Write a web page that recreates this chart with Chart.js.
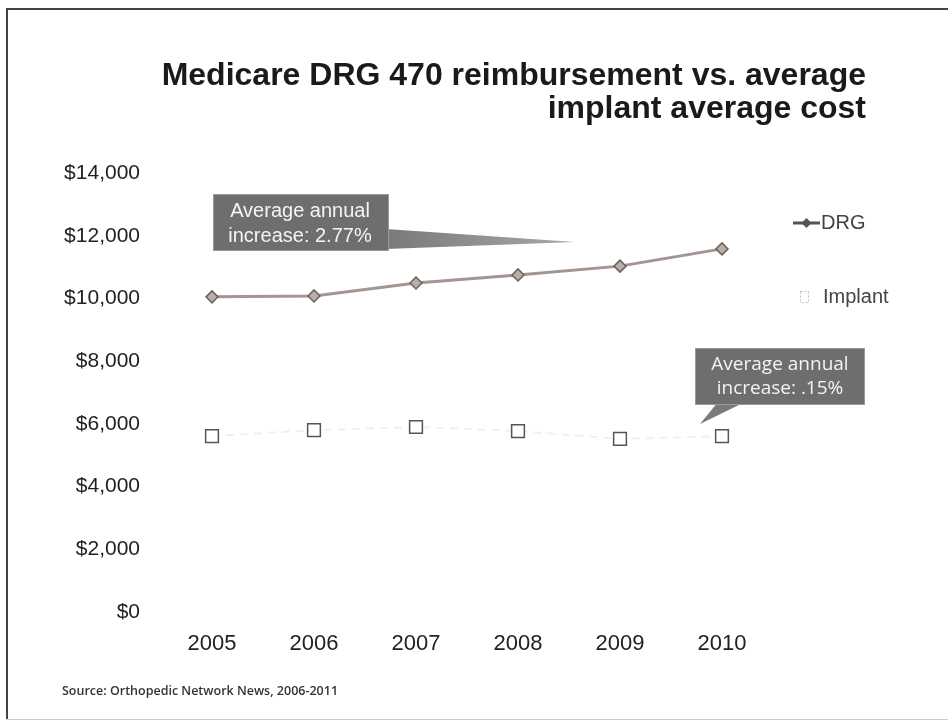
<!DOCTYPE html>
<html>
<head>
<meta charset="utf-8">
<script src="https://cdn.jsdelivr.net/npm/chart.js@4/dist/chart.umd.min.js"></script>
<style>
  html, body { margin: 0; padding: 0; background: #fff; }
  #wrap { width: 948px; height: 727px; position: relative; }
</style>
</head>
<body>
<div id="wrap"><canvas id="drgChart" width="948" height="727"></canvas></div>
<script>
// chart data
const years = ['2005', '2006', '2007', '2008', '2009', '2010'];
const drgValues = [10050, 10080, 10490, 10750, 11030, 11580];
const implantValues = [5610, 5800, 5900, 5770, 5520, 5610];
const yTicks = [0, 2000, 4000, 6000, 8000, 10000, 12000, 14000];
const titleLines = ['Medicare DRG 470 reimbursement vs. average', 'implant average cost'];
const drgNote = ['Average annual', 'increase: 2.77%'];
const implantNote = ['Average annual', 'increase: .15%'];
const sourceText = 'Source: Orthopedic Network News, 2006-2011';

// draws the frame, title, callouts, legend and source line
const decorations = {
  id: 'decorations',
  beforeDraw(chart) {
    const c = chart.ctx;
    c.save();
    c.fillStyle = '#fff';
    c.fillRect(0, 0, chart.width, chart.height);
    c.strokeStyle = '#444';
    c.lineWidth = 2;
    c.beginPath();
    c.moveTo(7, 719);
    c.lineTo(7, 9);
    c.lineTo(948, 9);
    c.stroke();
    c.strokeStyle = '#ccc';
    c.lineWidth = 1;
    c.beginPath();
    c.moveTo(7, 719.5);
    c.lineTo(948, 719.5);
    c.stroke();
    c.restore();
  },
  afterDraw(chart) {
    const c = chart.ctx;
    c.save();

    // title
    c.fillStyle = '#1a1a1a';
    c.font = 'bold 32px "Liberation Sans", Arial, sans-serif';
    c.textAlign = 'right';
    c.textBaseline = 'middle';
    c.fillText(titleLines[0], 866, 76);
    c.fillText(titleLines[1], 866, 109);

    // callout 1 (DRG)
    const grad = c.createLinearGradient(386, 0, 575, 0);
    grad.addColorStop(0, '#7a7a7a');
    grad.addColorStop(1, '#a8a8a8');
    c.fillStyle = grad;
    c.beginPath();
    c.moveTo(386, 229);
    c.lineTo(575, 242);
    c.lineTo(386, 249);
    c.closePath();
    c.fill();
    c.fillStyle = '#6e6e6e';
    c.fillRect(213, 194, 176, 57);
    c.strokeStyle = '#9a9a9a';
    c.lineWidth = 1;
    c.strokeRect(213.5, 194.5, 175, 56);
    c.fillStyle = '#f4f4f4';
    c.font = '20px "Liberation Sans", Arial, sans-serif';
    c.textAlign = 'center';
    c.fillText(drgNote[0], 300, 211);
    c.fillText(drgNote[1], 300, 236);

    // callout 2 (implant)
    c.fillStyle = '#7a7a7a';
    c.beginPath();
    c.moveTo(718, 402);
    c.lineTo(700, 424);
    c.lineTo(745, 402);
    c.closePath();
    c.fill();
    c.fillStyle = '#6e6e6e';
    c.fillRect(695, 348, 170, 57);
    c.strokeStyle = '#9a9a9a';
    c.strokeRect(695.5, 348.5, 169, 56);
    c.fillStyle = '#f4f4f4';
    c.font = '19px "Open Sans", sans-serif';
    c.fillText(implantNote[0], 780, 365);
    c.fillText(implantNote[1], 780, 389);

    // legend
    c.strokeStyle = '#555';
    c.lineWidth = 3;
    c.beginPath();
    c.moveTo(793, 223);
    c.lineTo(820, 223);
    c.stroke();
    c.fillStyle = '#555';
    c.beginPath();
    c.moveTo(806.5, 218);
    c.lineTo(811.5, 223);
    c.lineTo(806.5, 228);
    c.lineTo(801.5, 223);
    c.closePath();
    c.fill();
    c.strokeStyle = '#bbb';
    c.lineWidth = 1;
    c.setLineDash([2, 2]);
    c.strokeRect(800.5, 291.5, 8, 11);
    c.setLineDash([]);
    c.fillStyle = '#444';
    c.font = '20px "Liberation Sans", Arial, sans-serif';
    c.textAlign = 'left';
    c.fillText('DRG', 821, 223);
    c.fillText('Implant', 823, 297);

    // source
    c.fillStyle = '#333';
    c.font = '600 12.5px "Open Sans", sans-serif';
    c.fillText(sourceText, 62, 691);
    c.restore();
  }
};

const ctx = document.getElementById('drgChart').getContext('2d');
const drgChart = new Chart(ctx, {
  type: 'line',
  data: {
    labels: years,
    datasets: [
      {
        label: 'DRG',
        data: drgValues,
        borderColor: '#a3958f',
        borderWidth: 3,
        pointStyle: 'rectRot',
        pointRadius: 6,
        pointBackgroundColor: '#b8aeaa',
        pointBorderColor: '#6c625e',
        pointBorderWidth: 1.5,
        tension: 0
      },
      {
        label: 'Implant',
        data: implantValues,
        borderColor: '#f0f0f0',
        borderWidth: 2,
        borderDash: [8, 6],
        pointStyle: 'rect',
        pointRadius: 9,
        pointBackgroundColor: '#fff',
        pointBorderColor: '#555',
        pointBorderWidth: 1.5,
        tension: 0
      }
    ]
  },
  options: {
    responsive: false,
    animation: false,
    layout: { padding: { left: 0, right: 175, top: 173, bottom: 0 } },
    plugins: {
      legend: { display: false },
      title: { display: false },
      tooltip: { enabled: false }
    },
    scales: {
      x: {
        offset: true,
        grid: { display: false, drawTicks: false },
        border: { display: false },
        ticks: {
          padding: 19,
          color: '#222',
          font: { family: '"Liberation Sans", Arial, sans-serif', size: 22 }
        },
        afterFit(scale) { scale.height = 115; }
      },
      y: {
        min: 0,
        max: 14000,
        afterBuildTicks(scale) { scale.ticks = yTicks.map(v => ({ value: v })); },
        grid: { display: false, drawTicks: false },
        border: { display: false },
        ticks: {
          padding: 21,
          color: '#222',
          font: { family: '"Liberation Sans", Arial, sans-serif', size: 21 },
          callback: v => '$' + v.toLocaleString('en-US')
        },
        afterFit(scale) { scale.width = 161; }
      }
    }
  },
  plugins: [decorations]
});
</script>
</body>
</html>
